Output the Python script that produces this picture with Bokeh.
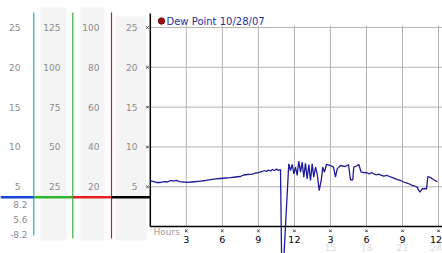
from bokeh.plotting import figure
from bokeh.models import Range1d
from bokeh.embed import file_html
from bokeh.resources import INLINE
from bokeh.core.properties import value

# ---------------- data ----------------
hours = [0.00, 0.27, 0.52, 0.85, 1.18, 1.43, 1.68, 1.93, 2.18, 2.43, 2.76, 3.10, 3.43, 3.85,
         4.18, 4.60, 5.02, 5.43, 5.85, 6.26, 6.68, 7.09, 7.51, 7.76, 8.09, 8.51, 8.76, 9.01,
         9.34, 9.51, 9.68, 9.84, 10.01, 10.17, 10.34, 10.51, 10.67, 10.84, 10.97, 11.53,
         11.67, 11.82, 11.95, 12.09, 12.23, 12.36, 12.51, 12.65, 12.78, 12.92, 13.06, 13.20,
         13.34, 13.48, 13.61, 13.76, 13.90, 14.06, 14.23, 14.36, 14.50, 14.67, 15.00, 15.25,
         15.42, 15.56, 15.84, 16.25, 16.50, 16.67, 16.86, 16.94, 17.17, 17.36, 17.56, 17.75,
         18.06, 18.25, 18.42, 18.61, 18.83, 19.00, 19.17, 19.42, 19.73, 20.00, 20.27, 20.58,
         20.83, 21.08, 21.39, 21.58, 21.81, 22.00, 22.22, 22.44, 22.64, 23.00, 23.11, 23.33,
         23.47, 23.81, 23.91]
dew_point = [5.75, 5.66, 5.54, 5.54, 5.66, 5.60, 5.79, 5.72, 5.79, 5.66, 5.60, 5.54, 5.60, 5.66,
             5.72, 5.79, 5.91, 5.98, 6.04, 6.10, 6.16, 6.23, 6.29, 6.48, 6.54, 6.60, 6.73, 6.79,
             6.92, 7.04, 6.92, 7.11, 6.98, 7.17, 7.04, 7.23, 7.04, 7.17, -8.20, 7.88,
             7.04, 7.80, 6.63, 7.46, 6.42, 8.21, 6.83, 8.09, 6.20, 7.96, 6.00, 7.80,
             5.79, 7.88, 6.20, 7.46, 6.63, 4.53, 5.79, 7.46, 6.83, 7.80, 7.67, 7.46,
             6.20, 7.25, 7.67, 7.54, 7.80, 5.88, 5.88, 7.46, 7.61, 7.80, 6.83, 6.79,
             6.75, 6.60, 6.79, 6.63, 6.48, 6.60, 6.50, 6.35, 6.42, 6.23, 6.08, 5.91,
             5.79, 5.60, 5.45, 5.35, 5.16, 5.10, 4.95, 4.32, 4.75, 4.75, 6.29, 6.16,
             6.00, 5.70, 5.66]

hour_ticks = [3, 6, 9, 12, 15, 18, 21, 24]
hour_labels = ["3", "6", "9", "12", "3", "6", "9", "12"]
hour24_ticks = [15, 18, 21, 24]
hour24_labels = ["15", "18", "21", "24"]
x_axis_title = "Hours"

y_ticks = [5, 10, 15, 20, 25]
col1_values = [5, 10, 15, 20, 25]        # scale factor 1
col2_values = [25, 50, 75, 100, 125]     # scale factor 5
col3_values = [20, 40, 60, 80, 100]      # scale factor 4
col4_values = [5, 10, 15, 20, 25]        # scale factor 1 (main axis)
col_factors = [1, 5, 4, 1]
stat_labels = ["8.2", "5.6", "-8.2"]     # max, current, min
legend_text = "Dew Point 10/28/07"

# ---------------- layout / style ----------------
W, H = 442, 253
X0, X1 = -12.473, 24.33          # hours visible across the canvas
Y0, Y1 = -3.377, 28.387          # dew point visible across the canvas
AXIS_TOP = 26.75
GRID_TOP = 25.25
FONT = value("DejaVu Sans")
LBL_GRAY = "#8c8c8c"
GRID = "#b4b4b4"
COL_BG = "#f4f4f4"
LINE_COL = "#1c1c96"

p = figure(width=W, height=H, output_backend="svg", toolbar_location=None,
           x_range=Range1d(X0, X1), y_range=Range1d(Y0, Y1),
           min_border=0, x_axis_type=None, y_axis_type=None)
p.extra_x_ranges = {"px": Range1d(0, W)}
p.extra_y_ranges = {"py": Range1d(H, 0)}
p.grid.visible = False
p.outline_line_color = None
p.background_fill_color = "white"
p.border_fill_color = "white"

PX = dict(x_range_name="px", y_range_name="py")

# grey column backgrounds
p.quad(left=[40, 80, 115], right=[66, 104, 146], top=[7, 7, 16], bottom=[240, 240, 240],
       fill_color=COL_BG, line_color=None, **PX)

# coloured vertical axis lines
p.segment(x0=[33.3, 72.3, 111], x1=[33.3, 72.3, 111], y0=[12, 12, 12], y1=[235, 238, 238],
          line_color=["#3a9fd6", "#3cae3c", "#b02434"], line_width=1.2, **PX)

# coloured horizontal bar
p.segment(x0=[0, 33.3, 72.3, 111], x1=[33.3, 72.3, 111, 149.5], y0=[196.7] * 4, y1=[196.7] * 4,
          line_color=["#1744d4", "#2fb52f", "#e02020", "#000000"], line_width=2.6, **PX)

# column tick labels
col_right = [20, 60, 99, 137]
for vals, fac, xr in zip([col1_values, col2_values, col3_values, col4_values], col_factors, col_right):
    p.text(x=[xr] * len(vals), y=[v / fac for v in vals], text=[str(v) for v in vals],
           x_range_name="px", text_font=FONT, text_font_size="9px", text_color=LBL_GRAY,
           text_align="right", text_baseline="middle")

# stats labels under the bar
p.text(x=[27] * 3, y=[204 + 15 * i for i in range(3)], text=stat_labels, **PX,
       text_font=FONT, text_font_size="9px", text_color=LBL_GRAY,
       text_align="right", text_baseline="middle")

# grid
p.segment(x0=[0] * len(y_ticks), x1=[X1] * len(y_ticks), y0=y_ticks, y1=y_ticks,
          line_color=GRID, line_width=1)
p.segment(x0=hour_ticks, x1=hour_ticks, y0=[0] * len(hour_ticks), y1=[GRID_TOP] * len(hour_ticks),
          line_color=GRID, line_width=1)

# left tick marks
p.scatter(x=[147] * len(y_ticks), y=y_ticks, x_range_name="px", marker="x", size=3.5,
          line_color="#333333", line_width=1)

# main axes
p.segment(x0=[0, 0], x1=[0, X1], y0=[0, 0], y1=[AXIS_TOP, 0], line_color="black", line_width=1.5)

# data line
p.line(hours, dew_point, line_color=LINE_COL, line_width=1.3)

# bottom tick marks and labels (last labels nudged inside the canvas)
p.scatter(x=hour_ticks, y=[230.3] * len(hour_ticks), y_range_name="py", marker="x", size=3.5,
          line_color="#333333", line_width=1)
p.text(x=hour_ticks, y=[238.7] * len(hour_ticks), text=hour_labels, y_range_name="py",
       x_offset=[0] * (len(hour_ticks) - 1) + [-2.5],
       text_font=FONT, text_font_size="9.5px", text_color="black",
       text_align="center", text_baseline="middle")
p.text(x=hour24_ticks, y=[247] * len(hour24_ticks), text=hour24_labels, y_range_name="py",
       x_offset=[0] * (len(hour24_ticks) - 1) + [-2.5],
       text_font=FONT, text_font_size="9.5px", text_color="#dcdcdc",
       text_align="center", text_baseline="middle")
p.text(x=[153], y=[231.3], text=[x_axis_title], **PX,
       text_font=FONT, text_font_size="9px", text_color="#9a9a9a",
       text_align="left", text_baseline="middle")

# legend
p.scatter(x=[161], y=[20.5], **PX, marker="circle", size=6.5,
          fill_color="#9a1010", line_color="#5a0a0a", line_width=0.8)
p.text(x=[166], y=[20.5], text=[legend_text], **PX,
       text_font=FONT, text_font_size="10px", text_color="#1f2fa0",
       text_align="left", text_baseline="middle")

open("out.html", "w").write(file_html(p, INLINE))
